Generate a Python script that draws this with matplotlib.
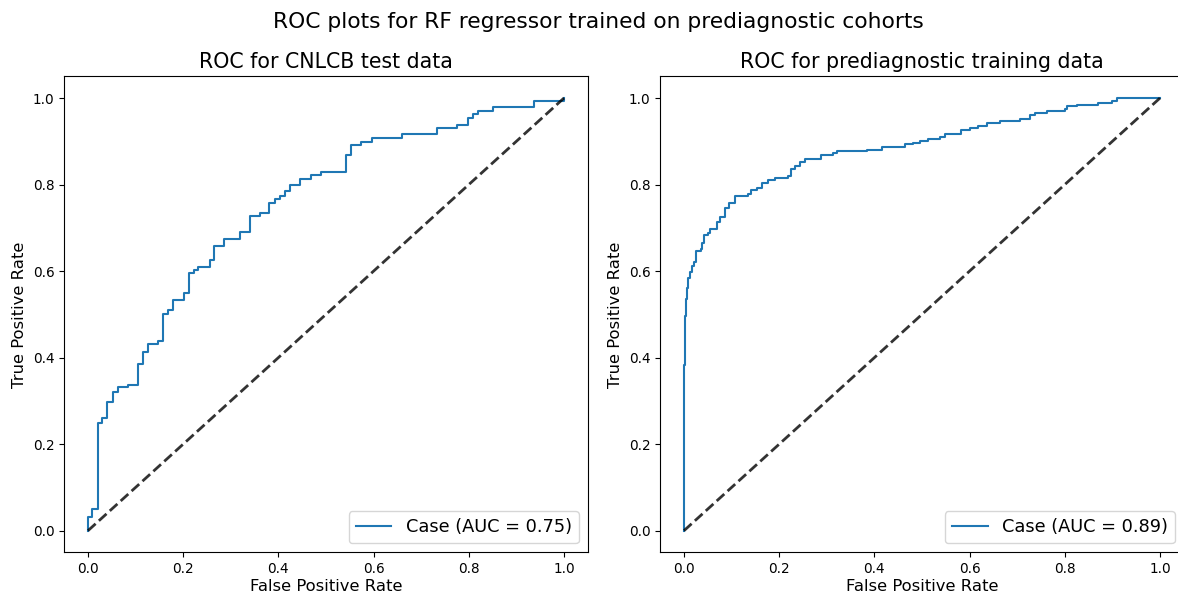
import numpy as np
import matplotlib
matplotlib.use("Agg")
import matplotlib.pyplot as plt

# ROC step points: false positive rate at each rise, true positive rate after the rise
test_fpr = [0.0, 0.008, 0.020, 0.029, 0.040, 0.053, 0.064, 0.084, 0.104, 0.116,
            0.127, 0.148, 0.158, 0.169, 0.179, 0.202, 0.212, 0.223, 0.232, 0.256,
            0.265, 0.286, 0.319, 0.340, 0.361, 0.381, 0.393, 0.403, 0.414, 0.424,
            0.445, 0.468, 0.489, 0.542, 0.553, 0.574, 0.597, 0.660, 0.734, 0.775,
            0.798, 0.808, 0.820, 0.850, 0.938, 1.0]
test_tpr = [0.032, 0.049, 0.250, 0.260, 0.298, 0.321, 0.331, 0.337, 0.385, 0.414,
            0.431, 0.439, 0.501, 0.510, 0.533, 0.549, 0.595, 0.603, 0.610, 0.626,
            0.658, 0.674, 0.690, 0.728, 0.735, 0.758, 0.766, 0.774, 0.784, 0.799,
            0.813, 0.822, 0.829, 0.868, 0.892, 0.899, 0.908, 0.916, 0.931, 0.938,
            0.954, 0.963, 0.970, 0.979, 0.993, 1.0]

train_fpr = [0.0, 0.002, 0.004, 0.006, 0.009, 0.0126, 0.016, 0.020, 0.025, 0.035,
             0.037, 0.042, 0.051, 0.055, 0.069, 0.076, 0.086, 0.095, 0.107, 0.135,
             0.140, 0.153, 0.163, 0.177, 0.191, 0.219, 0.224, 0.233, 0.244, 0.254,
             0.287, 0.314, 0.321, 0.384, 0.415, 0.464, 0.482, 0.496, 0.513, 0.538,
             0.548, 0.581, 0.601, 0.618, 0.636, 0.664, 0.706, 0.727, 0.737, 0.762,
             0.800, 0.804, 0.825, 0.870, 0.899, 0.909, 0.930, 1.0]
train_tpr = [0.384, 0.497, 0.535, 0.562, 0.584, 0.599, 0.611, 0.622, 0.646, 0.650,
             0.665, 0.683, 0.689, 0.698, 0.713, 0.725, 0.746, 0.757, 0.773, 0.778,
             0.788, 0.793, 0.803, 0.810, 0.816, 0.820, 0.835, 0.843, 0.852, 0.859,
             0.868, 0.874, 0.878, 0.880, 0.886, 0.893, 0.897, 0.901, 0.905, 0.911,
             0.918, 0.927, 0.930, 0.935, 0.942, 0.946, 0.951, 0.960, 0.966, 0.969,
             0.974, 0.981, 0.985, 0.989, 0.994, 0.999, 1.0, 1.0]

panel_titles = ["ROC for CNLCB test data", "ROC for prediagnostic training data"]
series_label = "Case"
suptitle = "ROC plots for RF regressor trained on prediagnostic cohorts"


def staircase(fpr_steps, tpr_levels):
    """Build the ROC polyline vertices (vertical rise, then horizontal run)."""
    xs, ys = [0.0], [0.0]
    prev = 0.0
    for x, y in zip(fpr_steps, tpr_levels):
        if xs[-1] != x:
            xs.append(x)
            ys.append(prev)
        xs.append(x)
        ys.append(y)
        prev = y
    if xs[-1] != 1.0:
        xs.append(1.0)
        ys.append(prev)
    return np.array(xs), np.array(ys)


plt.rcParams["xtick.labelsize"] = 9.85
plt.rcParams["ytick.labelsize"] = 9.85

fig = plt.figure(figsize=(11.78, 5.97), dpi=100)
W, H = 1178, 597
ax_w, ax_h = 523.6 / W, 475.9 / H
bottom = (H - 552.3) / H
axes = [fig.add_axes([64.2 / W, bottom, ax_w, ax_h]),
        fig.add_axes([660.2 / W, bottom, ax_w, ax_h])]

for ax, title, (f, t) in zip(axes, panel_titles,
                             [(test_fpr, test_tpr), (train_fpr, train_tpr)]):
    x, y = staircase(f, t)
    auc = np.trapezoid(y, x)
    ax.plot(x, y, color="#1f77b4", lw=1.5,
            label=f"{series_label} (AUC = {auc:.2f})")
    ax.plot([0, 1], [0, 1], linestyle="--", lw=2, color="k", alpha=0.8)
    ax.set_title(title, fontsize=14.8)
    ax.set_xlabel("False Positive Rate", fontsize=11.8, labelpad=2)
    ax.set_ylabel("True Positive Rate", fontsize=11.8)
    ax.legend(loc="lower right", fontsize=12.8)

fig.suptitle(suptitle, fontsize=15.7, x=598.5 / W, y=1 - 22 / H, va="center")
fig.savefig("out.png", dpi=100)
